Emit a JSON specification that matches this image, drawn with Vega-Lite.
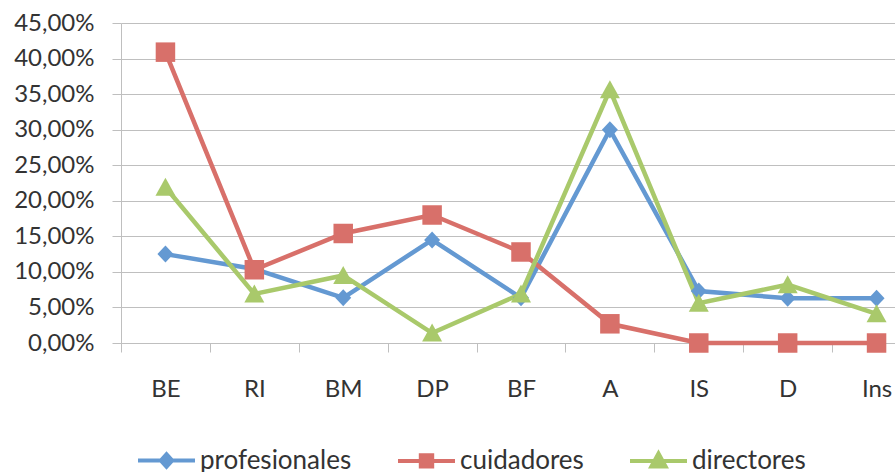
{
  "$schema": "https://vega.github.io/schema/vega-lite/v6.json",
  "autosize": "none",
  "padding": {"left": 121, "top": 23, "right": 0, "bottom": 129},
  "width": 774,
  "height": 320,
  "background": "white",
  "config": {
    "view": {"stroke": null},
    "font": "Lato",
    "axis": {"labelFont": "Lato", "labelColor": "#333333", "labelFontSize": 24, "title": null}
  },
  "data": {
    "values": [
      {"cat": "BE", "serie": "profesionales", "value": 0.125},
      {"cat": "RI", "serie": "profesionales", "value": 0.104},
      {"cat": "BM", "serie": "profesionales", "value": 0.0635},
      {"cat": "DP", "serie": "profesionales", "value": 0.145},
      {"cat": "BF", "serie": "profesionales", "value": 0.0635},
      {"cat": "A", "serie": "profesionales", "value": 0.300},
      {"cat": "IS", "serie": "profesionales", "value": 0.073},
      {"cat": "D", "serie": "profesionales", "value": 0.063},
      {"cat": "Ins", "serie": "profesionales", "value": 0.063},
      {"cat": "BE", "serie": "cuidadores", "value": 0.409},
      {"cat": "RI", "serie": "cuidadores", "value": 0.103},
      {"cat": "BM", "serie": "cuidadores", "value": 0.154},
      {"cat": "DP", "serie": "cuidadores", "value": 0.180},
      {"cat": "BF", "serie": "cuidadores", "value": 0.128},
      {"cat": "A", "serie": "cuidadores", "value": 0.027},
      {"cat": "IS", "serie": "cuidadores", "value": 0.0},
      {"cat": "D", "serie": "cuidadores", "value": 0.0},
      {"cat": "Ins", "serie": "cuidadores", "value": 0.0},
      {"cat": "BE", "serie": "directores", "value": 0.219},
      {"cat": "RI", "serie": "directores", "value": 0.069},
      {"cat": "BM", "serie": "directores", "value": 0.095},
      {"cat": "DP", "serie": "directores", "value": 0.014},
      {"cat": "BF", "serie": "directores", "value": 0.069},
      {"cat": "A", "serie": "directores", "value": 0.356},
      {"cat": "IS", "serie": "directores", "value": 0.056},
      {"cat": "D", "serie": "directores", "value": 0.082},
      {"cat": "Ins", "serie": "directores", "value": 0.041}
    ]
  },
  "encoding": {
    "x": {
      "field": "cat",
      "type": "nominal",
      "sort": ["BE", "RI", "BM", "DP", "BF", "A", "IS", "D", "Ins"],
      "scale": {"type": "band", "range": [0, 800], "paddingInner": 0, "paddingOuter": 0},
      "axis": {
        "labelAngle": 0,
        "tickBand": "extent",
        "tickSize": 9,
        "tickColor": "#bfbfbf",
        "domainColor": "#bfbfbf",
        "labelPadding": 25,
        "labelBaseline": "top",
        "grid": false
      }
    },
    "y": {
      "field": "value",
      "type": "quantitative",
      "scale": {"domain": [0, 0.45], "nice": false},
      "axis": {
        "values": [0, 0.05, 0.1, 0.15, 0.2, 0.25, 0.3, 0.35, 0.4, 0.45],
        "labelExpr": "replace(format(datum.value, '.2%'), '.', ',')",
        "tickSize": 9,
        "tickColor": "#bfbfbf",
        "domainColor": "#bfbfbf",
        "gridColor": "#bfbfbf",
        "gridWidth": 1,
        "labelPadding": 18
      }
    },
    "color": {
      "field": "serie",
      "type": "nominal",
      "sort": ["profesionales", "cuidadores", "directores"],
      "scale": {"domain": ["profesionales", "cuidadores", "directores"], "range": ["#6499d2", "#d8706a", "#a9c96b"]},
      "legend": {
        "orient": "none",
        "direction": "horizontal",
        "legendX": 15,
        "legendY": 407,
        "padding": 0,
        "title": null,
        "symbolSize": 3249,
        "labelOffset": 3,
        "columnPadding": 38,
        "labelFont": "Lato",
        "labelFontSize": 26,
        "labelColor": "#333333",
        "labelLimit": 400,
        "encode": {
          "symbols": {
            "update": {
              "shape": {"signal": "datum.value === 'profesionales' ? 'M-1,0H1M-0.2,0L0,-0.22L0.2,0L0,0.22Z' : datum.value === 'cuidadores' ? 'M-1,0H1M-0.2,-0.2H0.2V0.2H-0.2Z' : 'M-1,0H1M0,-0.26L0.25,0.2H-0.25Z'"},
              "fill": {"scale": "color", "field": "value"},
              "stroke": {"scale": "color", "field": "value"},
              "strokeWidth": {"value": 4},
              "opacity": {"value": 1},
              "fillOpacity": {"value": 1}
            }
          }
        }
      }
    }
  },
  "layer": [
    {
      "mark": {"type": "line", "strokeWidth": 4.5}
    },
    {
      "transform": [{"filter": "datum.serie === 'profesionales'"}],
      "mark": {"type": "point", "filled": true, "opacity": 1, "size": 100, "shape": "M0,-1.7L1.6,0L0,1.7L-1.6,0Z"}
    },
    {
      "transform": [{"filter": "datum.serie === 'cuidadores'"}],
      "mark": {"type": "point", "filled": true, "opacity": 1, "size": 100, "shape": "M-1.95,-1.95H1.95V1.95H-1.95Z"}
    },
    {
      "transform": [{"filter": "datum.serie === 'directores'"}],
      "mark": {"type": "point", "filled": true, "opacity": 1, "size": 100, "shape": "M0,-1.9L2,1.7H-2Z"}
    }
  ]
}
